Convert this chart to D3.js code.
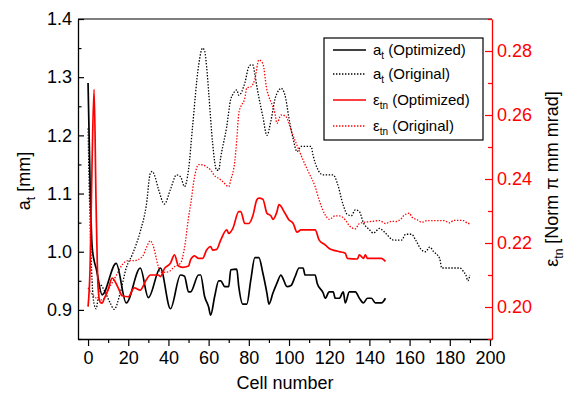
<!DOCTYPE html>
<html>
<head>
<meta charset="utf-8">
<script src="https://cdn.jsdelivr.net/npm/d3@7"></script>
<style>
  html, body { margin: 0; padding: 0; background: #fff; }
  svg { display: block; font-family: "Liberation Sans", Arial, sans-serif; }
</style>
</head>
<body>
<svg id="chart" width="577" height="396"></svg>
<script>
// Transverse beam size a_t [mm] along the cells (left axis)
const aOptimized = [
  [0,1.29],[1,1.12],[2,1.01],[3,0.985],[4,0.972],[7,0.926],[14,0.98],[19,0.912],
  [26,0.972],[30,0.921],[36,0.972],[41,0.902],[46,0.96],[48,0.958],[50,0.931],[51,0.931],
  [55,0.96],[56,0.96],[58,0.923],[60,0.905],[61,0.891],[63,0.923],[65,0.95],[66,0.95],
  [68,0.94],[70,0.94],[71,0.969],[74,0.97],[75,0.94],[77,0.91],[79,0.91],[81,0.952],
  [83,0.99],[85,0.99],[87,0.963],[89,0.929],[90,0.91],[92,0.929],[94,0.946],[96,0.96],
  [97,0.954],[99,0.94],[101,0.942],[103,0.957],[105,0.972],[107,0.972],[108,0.96],[113,0.96],
  [114,0.946],[117,0.929],[118,0.92],[120,0.931],[122,0.931],[123,0.92],[125,0.92],[127,0.931],
  [128,0.912],[130,0.931],[133,0.931],[135,0.92],[137,0.912],[139,0.92],[141,0.92],[143,0.912],
  [146,0.912],[148,0.92]
];
const aOriginal = [
  [0,1.212],[1,1.05],[2,0.95],[3,0.91],[4,0.902],[5,0.92],[6,0.944],[8,0.934],[11,0.912],
  [13,0.901],[16,0.929],[19,0.972],[22,0.995],[26,1.035],[29,1.08],[31,1.135],[32,1.138],
  [33,1.132],[35,1.108],[38,1.082],[41,1.107],[44,1.132],[46,1.129],[48,1.112],[50,1.141],
  [52,1.215],[55,1.32],[57,1.35],[58,1.345],[59,1.318],[60,1.275],[62,1.186],[64,1.14],
  [65,1.14],[66,1.162],[69,1.215],[71,1.262],[72,1.27],[74,1.278],[75,1.269],[78,1.29],
  [80,1.318],[81,1.321],[82,1.321],[83,1.305],[84,1.284],[87,1.232],[89,1.2],[91,1.225],
  [93,1.262],[95,1.278],[96,1.281],[98,1.269],[100,1.229],[102,1.195],[104,1.172],[106,1.181],
  [111,1.181],[112,1.165],[117,1.132],[122,1.132],[124,1.118],[127,1.08],[129,1.064],[131,1.062],
  [133,1.072],[135,1.069],[137,1.05],[140,1.038],[142,1.032],[145,1.04],[148,1.032],[152,1.02],
  [156,1.02],[158,1.03],[161,1.03],[163,1.02],[166,1.003],[168,1.0],[170,1.008],[172,1.0],
  [175,0.988],[176,0.972],[185,0.972],[187,0.965],[188,0.96],[189,0.95],[190,0.96]
];
// Normalised transverse emittance eps_tn [pi mm mrad] (right axis)
const eOptimized = [
  [0,0.2001],[1,0.212],[2,0.245],[3,0.268],[4,0.232],[5,0.206],[6,0.2015],[7,0.2012],
  [8,0.2025],[10,0.2055],[12,0.209],[15,0.206],[17,0.2035],[20,0.2032],[23,0.206],[26,0.2053],
  [29,0.2085],[31,0.21],[35,0.21],[36,0.2095],[38,0.212],[41,0.2137],[43,0.2163],[45,0.2128],
  [47,0.2124],[50,0.2128],[51,0.2147],[53,0.216],[55,0.2152],[57,0.2152],[59,0.2178],[61,0.2189],
  [62,0.2178],[64,0.218],[66,0.2209],[69,0.2241],[70,0.223],[72,0.2245],[75,0.2298],[76,0.2298],
  [78,0.2261],[80,0.2261],[82,0.2285],[84,0.2335],[85,0.234],[87,0.2337],[89,0.2293],[91,0.2285],
  [92,0.2274],[94,0.2298],[95,0.232],[98,0.2293],[100,0.2272],[102,0.2262],[104,0.2234],[106,0.2241],
  [113,0.2241],[115,0.2209],[118,0.2194],[120,0.2183],[123,0.2176],[125,0.2173],[128,0.2168],[129,0.2152],
  [134,0.215],[135,0.2163],[137,0.2152],[138,0.2163],[139,0.2152],[146,0.2152],[148,0.2142]
];
const eOriginal = [
  [0,0.206],[2,0.204],[4,0.2028],[7,0.2022],[11,0.2065],[14,0.2098],[17,0.2132],[20,0.2145],
  [23,0.2145],[27,0.2157],[29,0.2185],[31,0.2207],[32,0.2198],[35,0.2126],[36,0.2108],[40,0.211],
  [43,0.2126],[46,0.2137],[48,0.2185],[50,0.228],[51,0.2319],[53,0.2407],[55,0.2445],[57,0.2444],
  [59,0.2438],[61,0.2428],[63,0.241],[65,0.2402],[67,0.2392],[70,0.2376],[71,0.2397],[73,0.2455],
  [74,0.2522],[75,0.2605],[76,0.2626],[78,0.2652],[79,0.2685],[81,0.2688],[83,0.2712],[85,0.2772],
  [87,0.276],[89,0.2678],[90,0.2657],[93,0.2605],[94,0.2574],[96,0.26],[98,0.2598],[99,0.259],
  [101,0.2553],[104,0.2505],[107,0.2459],[110,0.2418],[113,0.2376],[115,0.2334],[118,0.2288],[120,0.2274],
  [123,0.2285],[125,0.2285],[128,0.2272],[130,0.2254],[133,0.2244],[135,0.2261],[138,0.2265],[142,0.2268],
  [145,0.227],[148,0.2261],[151,0.2268],[153,0.2267],[156,0.2277],[157,0.2285],[160,0.2293],[161,0.2282],
  [164,0.2272],[166,0.2265],[169,0.227],[177,0.227],[180,0.2263],[182,0.2271],[187,0.227],[189,0.2261],
  [190,0.2261]
];

// Tick values
const xTicks = [0,20,40,60,80,100,120,140,160,180,200];
const xMinorTicks = [10,30,50,70,90,110,130,150,170,190];
const leftTicks = [0.9,1.0,1.1,1.2,1.3,1.4];
const leftMinorTicks = [0.85,0.95,1.05,1.15,1.25,1.35];
const rightTicks = [0.20,0.22,0.24,0.26,0.28];
const rightMinorTicks = [0.19,0.21,0.23,0.25,0.27,0.29];

const RED = "#ff0000";
const plot = { left: 78, right: 492, top: 19, bottom: 339 };

const svg = d3.select("#chart");
svg.append("rect").attr("width", 577).attr("height", 396).attr("fill", "#fff");

const x = d3.scaleLinear().domain([-5, 201]).range([plot.left, plot.right]);
const yL = d3.scaleLinear().domain([0.85, 1.4]).range([plot.bottom, plot.top]);
const yR = d3.scaleLinear().domain([0.19, 0.29]).range([plot.bottom, plot.top]);

// Data lines
const lineL = d3.line().x(d => x(d[0])).y(d => yL(d[1])).curve(d3.curveMonotoneX);
const lineR = d3.line().x(d => x(d[0])).y(d => yR(d[1])).curve(d3.curveMonotoneX);

const series = [
  { data: aOriginal, line: lineL, color: "#000", dash: "1.4,1.6", width: 1.3 },
  { data: eOriginal, line: lineR, color: RED, dash: "1.4,1.6", width: 1.3 },
  { data: aOptimized, line: lineL, color: "#000", dash: null, width: 1.7 },
  { data: eOptimized, line: lineR, color: RED, dash: null, width: 1.7 }
];
const gLines = svg.append("g");
series.forEach(s => {
  gLines.append("path")
    .datum(s.data)
    .attr("d", s.line)
    .attr("fill", "none")
    .attr("stroke", s.color)
    .attr("stroke-width", s.width)
    .attr("stroke-linejoin", "round")
    .attr("stroke-dasharray", s.dash);
});

// Top frame
svg.append("line")
  .attr("x1", plot.left).attr("x2", plot.right)
  .attr("y1", plot.top).attr("y2", plot.top)
  .attr("stroke", "#000").attr("stroke-width", 1.2);

function styleAxis(g, color) {
  g.selectAll("path.domain").attr("stroke", color).attr("stroke-width", 1.3);
  g.selectAll(".tick line").attr("stroke", color).attr("stroke-width", 1.2);
  g.selectAll(".tick text").attr("fill", color)
    .attr("font-family", "Liberation Sans, Arial, sans-serif").attr("font-size", 18);
}

// Bottom axis (ticks outward)
const gx = svg.append("g").attr("transform", `translate(0,${plot.bottom})`)
  .call(d3.axisBottom(x).tickValues(xTicks).tickFormat(d3.format("d"))
    .tickSize(7).tickSizeOuter(0).tickPadding(5));
styleAxis(gx, "#000");
const gxm = svg.append("g").attr("transform", `translate(0,${plot.bottom})`)
  .call(d3.axisBottom(x).tickValues(xMinorTicks).tickFormat("").tickSize(4).tickSizeOuter(0));
gxm.select("path.domain").remove();
styleAxis(gxm, "#000");

// Left axis (ticks inward)
const gl = svg.append("g").attr("transform", `translate(${plot.left},0)`)
  .call(d3.axisLeft(yL).tickValues(leftTicks).tickFormat(d3.format(".1f"))
    .tickSize(-6).tickSizeOuter(0).tickPadding(6));
styleAxis(gl, "#000");
const glm = svg.append("g").attr("transform", `translate(${plot.left},0)`)
  .call(d3.axisLeft(yL).tickValues(leftMinorTicks).tickFormat("").tickSize(-3.5).tickSizeOuter(0));
glm.select("path.domain").remove();
styleAxis(glm, "#000");

// Right axis (red, ticks inward)
const gr = svg.append("g").attr("transform", `translate(${plot.right},0)`)
  .call(d3.axisRight(yR).tickValues(rightTicks).tickFormat(d3.format(".2f"))
    .tickSize(-7).tickSizeOuter(0).tickPadding(5));
styleAxis(gr, RED);
const grm = svg.append("g").attr("transform", `translate(${plot.right},0)`)
  .call(d3.axisRight(yR).tickValues(rightMinorTicks).tickFormat("").tickSize(-4).tickSizeOuter(0));
grm.select("path.domain").remove();
styleAxis(grm, RED);

// Axis titles
svg.append("text")
  .attr("x", (plot.left + plot.right) / 2).attr("y", 389)
  .attr("text-anchor", "middle").attr("font-size", 18).attr("fill", "#000")
  .text("Cell number");

const tl = svg.append("text")
  .attr("transform", `translate(30,${(plot.top + plot.bottom) / 2 + 2}) rotate(-90)`)
  .attr("text-anchor", "middle").attr("font-size", 18).attr("fill", "#000");
tl.append("tspan").text("a");
tl.append("tspan").attr("font-size", 12).attr("dy", 5).text("t");
tl.append("tspan").attr("dy", -5).text(" [mm]");

const tr = svg.append("text")
  .attr("transform", `translate(558,${(plot.top + plot.bottom) / 2}) rotate(-90)`)
  .attr("text-anchor", "middle").attr("font-size", 18).attr("fill", "#000");
tr.append("tspan").text("ε");
tr.append("tspan").attr("font-size", 12).attr("dy", 5).text("tn");
tr.append("tspan").attr("dy", -5).text(" [Norm π mm mrad]");

// Legend
const legendItems = [
  { main: "a", sub: "t", rest: " (Optimized)", color: "#000", dash: null, width: 1.7 },
  { main: "a", sub: "t", rest: " (Original)", color: "#000", dash: "1.4,1.6", width: 1.3 },
  { main: "ε", sub: "tn", rest: " (Optimized)", color: RED, dash: null, width: 1.7 },
  { main: "ε", sub: "tn", rest: " (Original)", color: RED, dash: "1.4,1.6", width: 1.3 }
];
const legendRows = [50, 74, 100, 126];
const gLeg = svg.append("g");
gLeg.append("rect")
  .attr("x", 324).attr("y", 38).attr("width", 159).attr("height", 102)
  .attr("fill", "#fff").attr("stroke", "#000").attr("stroke-width", 1.2);
legendItems.forEach((it, i) => {
  const cy = legendRows[i];
  gLeg.append("line")
    .attr("x1", 333).attr("x2", 366).attr("y1", cy).attr("y2", cy)
    .attr("stroke", it.color).attr("stroke-width", it.width)
    .attr("stroke-dasharray", it.dash);
  const t = gLeg.append("text")
    .attr("x", 373).attr("y", cy + 5).attr("font-size", 15).attr("fill", "#000");
  t.append("tspan").text(it.main);
  t.append("tspan").attr("font-size", 10).attr("dy", 4).text(it.sub);
  t.append("tspan").attr("dy", -4).text(it.rest);
});
</script>
</body>
</html>
